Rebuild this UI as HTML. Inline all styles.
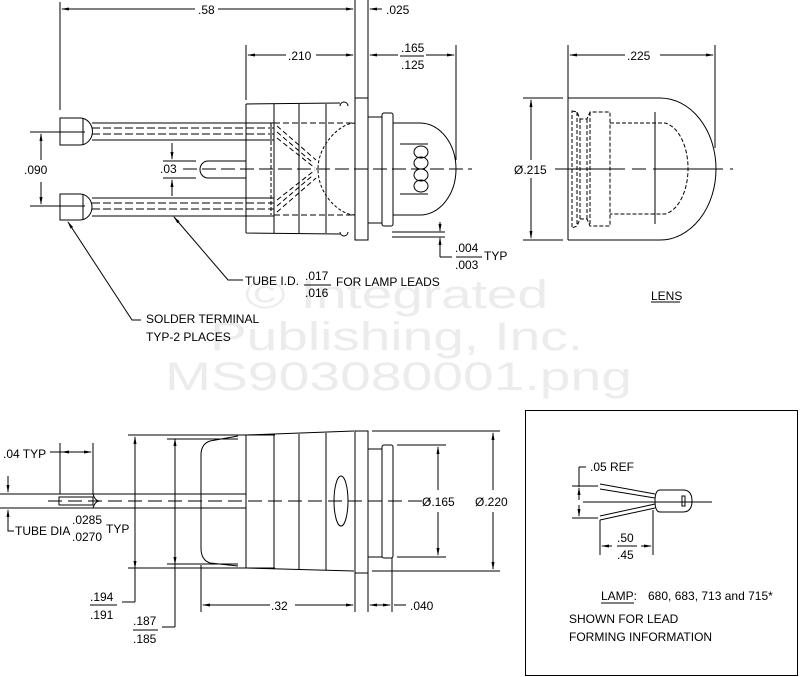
<!DOCTYPE html>
<html><head><meta charset="utf-8"><style>
html,body{margin:0;padding:0;background:#fff;}
svg{display:block;}
text{font-family:"Liberation Sans",sans-serif;font-size:12px;fill:#000;}
.wm{font-size:40px;fill:#ececec;}
</style></head><body>
<svg width="800" height="677" viewBox="0 0 800 677" xmlns="http://www.w3.org/2000/svg">
<defs>
<marker id="a" markerWidth="8" markerHeight="4" refX="7" refY="2" orient="auto-start-reverse" markerUnits="userSpaceOnUse"><path d="M0,0.5 L8,2 L0,3.5z" fill="#000"/></marker>
</defs>
<!-- watermark -->
<text class="wm" x="245" y="308" textLength="303" lengthAdjust="spacingAndGlyphs">© Integrated</text>
<text class="wm" x="210" y="350" textLength="373" lengthAdjust="spacingAndGlyphs">Publishing, Inc.</text>
<text class="wm" x="165" y="390" textLength="467" lengthAdjust="spacingAndGlyphs">MS903080001.png</text>

<g stroke="#000" stroke-width="1" fill="none">
<!-- ===== TOP VIEW ===== -->
<line x1="60" y1="2" x2="60" y2="110"/>
<line x1="62" y1="9" x2="195" y2="9" marker-start="url(#a)"/>
<line x1="218" y1="9" x2="353" y2="9" marker-end="url(#a)"/>
<line x1="355" y1="0" x2="355" y2="98"/>
<line x1="368" y1="0" x2="368" y2="98"/>
<line x1="370" y1="9" x2="382" y2="9" marker-start="url(#a)"/>
<line x1="246" y1="45" x2="246" y2="100"/>
<line x1="248" y1="55" x2="286" y2="55" marker-start="url(#a)"/>
<line x1="316" y1="55" x2="353" y2="55" marker-end="url(#a)"/>
<line x1="456" y1="45" x2="456" y2="160"/>
<line x1="370" y1="55" x2="398" y2="55" marker-start="url(#a)"/>
<line x1="426" y1="55" x2="454" y2="55" marker-end="url(#a)"/>
<line x1="400" y1="56" x2="424" y2="56"/>
<path d="M246,104 L246,233 M246,104 L340,103 M246,233 L340,234"/>
<line x1="274" y1="104" x2="274" y2="233"/>
<line x1="299" y1="104" x2="299" y2="233"/>
<line x1="326" y1="104" x2="326" y2="233"/>
<path d="M340,106 a4,4 0 0 1 8,0 M340,232 a4,4 0 0 0 8,0"/>
<rect x="355" y="98" width="13" height="142"/>
<rect x="368" y="117" width="14" height="106"/>
<rect x="382" y="113" width="11" height="113" rx="2"/>
<path d="M393,123 L420,123 A36,46 0 0 1 420,215 L393,215"/>
<path d="M355,123 C340,123 318,145 318,169 C318,195 340,215 355,215" stroke-dasharray="3,2"/>
<line x1="274" y1="123" x2="355" y2="123" stroke-dasharray="6,3"/>
<line x1="274" y1="215" x2="355" y2="215" stroke-dasharray="6,3"/>
<line x1="271" y1="123" x2="271" y2="215" stroke-dasharray="4,2"/>
<path d="M400,144 L428,144 M400,194 L428,194"/>
<ellipse cx="421" cy="152" rx="7" ry="6"/><ellipse cx="421" cy="163" rx="7" ry="6"/><ellipse cx="421" cy="175" rx="7" ry="6"/><ellipse cx="421" cy="186" rx="7" ry="6"/>
<g stroke-dasharray="5,3">
<line x1="277" y1="126" x2="316" y2="160"/><line x1="277" y1="132" x2="312" y2="162"/><line x1="277" y1="138" x2="315" y2="168"/>
<line x1="277" y1="212" x2="316" y2="178"/><line x1="277" y1="206" x2="312" y2="176"/><line x1="277" y1="200" x2="315" y2="170"/>
</g>
<line x1="92" y1="123" x2="274" y2="123"/><line x1="92" y1="140" x2="274" y2="140"/>
<line x1="92" y1="128" x2="274" y2="128" stroke-dasharray="8,3"/><line x1="92" y1="134" x2="274" y2="134" stroke-dasharray="8,3"/>
<line x1="92" y1="198" x2="274" y2="198"/><line x1="92" y1="216" x2="274" y2="216"/>
<line x1="92" y1="203" x2="274" y2="203" stroke-dasharray="8,3"/><line x1="92" y1="209" x2="274" y2="209" stroke-dasharray="8,3"/>
<path d="M60,118 L80,118 A12,13 0 0 1 80,145 L60,145 Z"/>
<line x1="83" y1="118" x2="83" y2="145"/>
<path d="M60,194 L80,194 A12,13 0 0 1 80,220 L60,220 Z"/>
<line x1="83" y1="194" x2="83" y2="220"/>
<line x1="30" y1="132" x2="85" y2="132"/><line x1="30" y1="206" x2="85" y2="206"/>
<line x1="41" y1="160" x2="41" y2="134" marker-end="url(#a)"/>
<line x1="41" y1="182" x2="41" y2="204" marker-end="url(#a)"/>
<path d="M246,161 L208,161 A8,8.5 0 0 0 208,178 L246,178"/>
<line x1="163" y1="161" x2="196" y2="161"/><line x1="163" y1="178" x2="196" y2="178"/>
<line x1="172" y1="143" x2="172" y2="159" marker-end="url(#a)"/>
<line x1="172" y1="196" x2="172" y2="180" marker-end="url(#a)"/>
<line x1="183" y1="169" x2="472" y2="169" stroke-dasharray="14,5"/>
<path d="M392,232 L445,232 M392,237 L445,237"/>
<line x1="440" y1="222" x2="440" y2="231" marker-end="url(#a)"/>
<line x1="440" y1="249" x2="440" y2="238" marker-end="url(#a)"/>
<line x1="440" y1="249" x2="440" y2="257"/><line x1="440" y1="257" x2="452" y2="257"/>
<line x1="456" y1="257" x2="482" y2="257"/>
<!-- leaders -->
<path d="M243,280 L228,280 L174,217" marker-end="url(#a)"/>
<path d="M141,320 L132,320 L68,222" marker-end="url(#a)"/>
<line x1="304" y1="285" x2="331" y2="285"/>

<!-- ===== LENS ===== -->
<line x1="568" y1="45" x2="568" y2="240"/>
<line x1="715" y1="45" x2="715" y2="148"/>
<line x1="570" y1="55" x2="625" y2="55" marker-start="url(#a)"/>
<line x1="660" y1="55" x2="713" y2="55" marker-end="url(#a)"/>
<path d="M568,98 L660,98 A56,71 0 0 1 660,240 L568,240"/>
<line x1="523" y1="98" x2="563" y2="98"/><line x1="523" y1="240" x2="563" y2="240"/>
<line x1="531" y1="100" x2="531" y2="160" marker-start="url(#a)"/>
<line x1="531" y1="178" x2="531" y2="238" marker-end="url(#a)"/>
<g stroke-dasharray="4,2">
<path d="M572,111 L577,112 L580,119 L587,119 L590,112 L610,112 L610,226 L590,226 L587,219 L580,219 L577,226 L572,228 Z"/>
<line x1="580" y1="119" x2="580" y2="219"/><line x1="587" y1="119" x2="587" y2="219"/>
<line x1="590" y1="112" x2="590" y2="226"/><line x1="577" y1="112" x2="577" y2="226"/>
<path d="M610,123 L665,123 A27,46 0 0 1 665,214 L610,214"/>
</g>
<line x1="655" y1="112" x2="655" y2="224"/>
<line x1="555" y1="169" x2="733" y2="169" stroke-dasharray="70,7,14,7"/>
<line x1="651" y1="302" x2="680" y2="302"/>

<!-- ===== BOTTOM VIEW ===== -->
<line x1="128" y1="435" x2="275" y2="435"/><line x1="128" y1="568" x2="275" y2="568"/>
<path d="M246,435 L246,568 M246,435 L354,431 M246,568 L354,571"/>
<line x1="274" y1="434" x2="274" y2="569"/><line x1="299" y1="434" x2="299" y2="569"/><line x1="326" y1="433" x2="326" y2="570"/>
<rect x="355" y="431" width="13" height="142"/>
<rect x="368" y="449" width="14" height="108"/>
<rect x="382" y="445" width="11" height="113" rx="2"/>
<path d="M238,436 L210,441 Q201,444 201,455 L201,548 Q201,560 210,563 L238,566"/>
<ellipse cx="341" cy="501" rx="7" ry="25"/>
<line x1="0" y1="494" x2="246" y2="494"/><line x1="0" y1="508" x2="246" y2="508"/>
<rect x="59" y="497" width="34" height="8"/>
<path d="M93,494 Q95,501 100,501 Q95,501 93,508"/>
<line x1="48" y1="501" x2="430" y2="501" stroke-dasharray="14,6"/>
<line x1="60" y1="443" x2="60" y2="494"/><line x1="93" y1="443" x2="93" y2="494"/>
<line x1="50" y1="452" x2="91" y2="452" marker-end="url(#a)"/>
<line x1="62" y1="452" x2="70" y2="452" marker-start="url(#a)"/>
<line x1="8" y1="476" x2="8" y2="492" marker-end="url(#a)"/>
<line x1="8" y1="525" x2="8" y2="510" marker-end="url(#a)"/>
<path d="M8,525 L8,531 L14,531"/>
<line x1="135" y1="437" x2="135" y2="602" marker-start="url(#a)"/>
<line x1="135" y1="480" x2="135" y2="568" marker-end="url(#a)"/>
<path d="M135,602 L122,602"/>
<line x1="90" y1="605" x2="117" y2="605"/>
<line x1="175" y1="439" x2="175" y2="627" marker-start="url(#a)"/>
<line x1="175" y1="480" x2="175" y2="564" marker-end="url(#a)"/>
<line x1="167" y1="439" x2="238" y2="439"/><line x1="167" y1="564" x2="238" y2="564"/>
<path d="M175,627 L162,627"/>
<line x1="133" y1="630" x2="158" y2="630"/>
<line x1="201" y1="565" x2="201" y2="612"/>
<line x1="355" y1="573" x2="355" y2="612"/><line x1="368" y1="573" x2="368" y2="612"/>
<line x1="392" y1="558" x2="392" y2="612"/>
<line x1="203" y1="605" x2="270" y2="605" marker-start="url(#a)"/>
<line x1="295" y1="605" x2="353" y2="605" marker-end="url(#a)"/>
<line x1="370" y1="605" x2="380" y2="605" marker-start="url(#a)"/>
<line x1="380" y1="605" x2="390" y2="605" marker-end="url(#a)"/>
<line x1="394" y1="605" x2="406" y2="605"/>
<line x1="397" y1="445" x2="446" y2="445"/><line x1="397" y1="557" x2="446" y2="557"/>
<line x1="438" y1="490" x2="438" y2="447" marker-end="url(#a)"/>
<line x1="438" y1="512" x2="438" y2="555" marker-end="url(#a)"/>
<line x1="372" y1="431" x2="500" y2="431"/><line x1="372" y1="571" x2="500" y2="571"/>
<line x1="493" y1="490" x2="493" y2="433" marker-end="url(#a)"/>
<line x1="493" y1="512" x2="493" y2="569" marker-end="url(#a)"/>

<!-- ===== INSET ===== -->
<rect x="525.5" y="410.5" width="272" height="265"/>
<path d="M579,467 L579,487 M579,467 L586,467"/>
<line x1="572" y1="486" x2="598" y2="486"/><line x1="572" y1="518" x2="598" y2="518"/>
<line x1="579" y1="500" x2="579" y2="488" marker-end="url(#a)"/>
<line x1="579" y1="505" x2="579" y2="516" marker-end="url(#a)"/>
<path d="M600,484 L655,494 M600,489 L655,498 M600,520 L655,508 M600,516 L655,504"/>
<path d="M660,490 L683,490 Q692,490 692,501 Q692,512 683,512 L660,512 Q655,512 655,501 Q655,490 660,490 Z"/>
<line x1="583" y1="502" x2="712" y2="502"/>
<rect x="682" y="496" width="3" height="10"/>
<line x1="600" y1="520" x2="600" y2="555"/><line x1="653" y1="510" x2="653" y2="555"/>
<line x1="602" y1="546" x2="612" y2="546" marker-start="url(#a)"/>
<line x1="641" y1="546" x2="651" y2="546" marker-end="url(#a)"/>
<line x1="617" y1="546" x2="637" y2="546"/>
<line x1="601" y1="603" x2="634" y2="603"/>
</g>

<text x="198" y="14">.58</text>
<text x="386" y="14">.025</text>
<text x="288" y="60">.210</text>
<text x="401" y="52">.165</text>
<text x="401" y="69">.125</text>
<text x="24" y="174">.090</text>
<text x="160" y="173">.03</text>
<text x="455" y="252">.004</text>
<text x="455" y="269">.003</text>
<text x="484" y="260">TYP</text>
<text x="245" y="285">TUBE I.D.</text>
<text x="305" y="280">.017</text>
<text x="305" y="297">.016</text>
<text x="336" y="286">FOR LAMP LEADS</text>
<text x="146" y="323">SOLDER TERMINAL</text>
<text x="146" y="341">TYP-2 PLACES</text>
<text x="627" y="60">.225</text>
<text x="514" y="174">Ø.215</text>
<text x="651" y="300">LENS</text>
<text x="3" y="458">.04 TYP</text>
<text x="15" y="535">TUBE DIA</text>
<text x="72" y="524">.0285</text>
<text x="72" y="541">.0270</text>
<text x="106" y="533">TYP</text>
<text x="90" y="601">.194</text>
<text x="90" y="619">.191</text>
<text x="133" y="625">.187</text>
<text x="133" y="643">.185</text>
<text x="271" y="610">.32</text>
<text x="410" y="610">.040</text>
<text x="422" y="506">Ø.165</text>
<text x="475" y="506">Ø.220</text>
<text x="590" y="471">.05 REF</text>
<text x="617" y="542">.50</text>
<text x="617" y="559">.45</text>
<text x="601" y="600">LAMP:</text>
<text x="648" y="600">680, 683, 713 and 715*</text>
<text x="569" y="623">SHOWN FOR LEAD</text>
<text x="569" y="641">FORMING INFORMATION</text>
</svg>
</body></html>
